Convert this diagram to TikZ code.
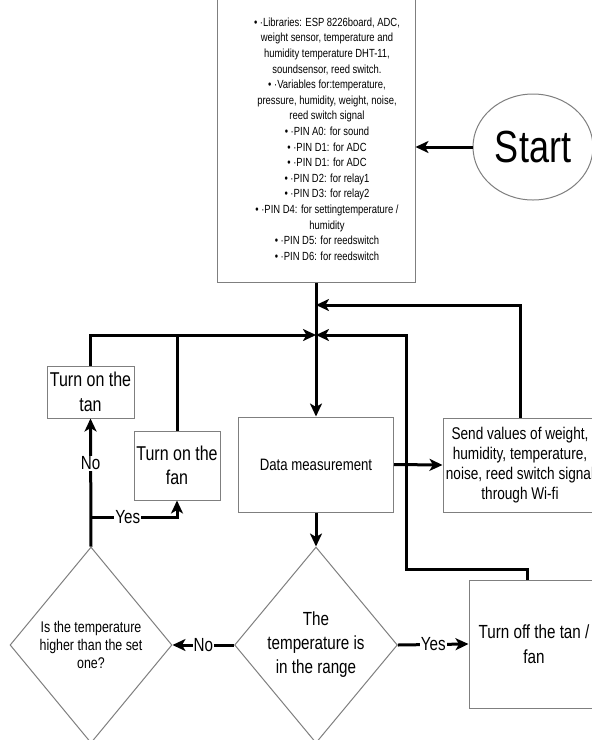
\documentclass[tikz,border=0pt]{standalone}
\usepackage{fontspec}
\setmainfont{Liberation Sans}[FakeStretch=0.8]
\usetikzlibrary{shapes.geometric,arrows.meta}
\definecolor{BoxGray}{HTML}{7F7F7F}
\definecolor{NiceBlack}{HTML}{000000}
\tikzset{
  box/.style={draw=BoxGray, line width=1pt, fill=white, align=center, inner sep=1pt},
  decision/.style={box, diamond, inner sep=0pt},
  flow/.style={line width=3pt, NiceBlack, -{Stealth[length=13pt,width=12pt,inset=3.5pt]}},
  wire/.style={line width=3pt, NiceBlack},
  lbl/.style={fill=white, inner sep=1pt, font=\fontsize{19}{22}\selectfont},
}
\begin{document}
\begin{tikzpicture}[x=1pt, y=-1pt]
      \useasboundingbox (0,0) rectangle (592,740);
      \clip (0,0) rectangle (592,740);
      % Setup block
      \node[box, minimum width=198, minimum height=290] (setup) at (316,137) {};
      \node[align=center, inner sep=0pt, font=\fontsize{11.8}{15.6}\selectfont]
      (setuptxt) at (327,139) {• ·Libraries: ESP 8226board, ADC,\\
        weight sensor, temperature and\\
        humidity temperature DHT-11,\\
        soundsensor, reed switch.\\
        • ·Variables for:temperature,\\
        pressure, humidity, weight, noise,\\
        reed switch signal\\
        • ·PIN A0: for sound\\
        • ·PIN D1: for ADC\\
        • ·PIN D1: for ADC\\
        • ·PIN D2: for relay1\\
        • ·PIN D3: for relay2\\
        • ·PIN D4: for settingtemperature /\\
        humidity\\
        • ·PIN D5: for reedswitch\\
        • ·PIN D6: for reedswitch};
      \node[box, ellipse, minimum width=120, minimum height=106,
      font=\fontsize{45}{48}\selectfont] (start) at (533,147) {Start};
      % Process blocks
      \node[box, minimum width=155, minimum height=95,
      font=\fontsize{16.5}{20}\selectfont] (data) at (316,464.5) {Data measurement};
      \node[box, minimum width=154, minimum height=94,
      font=\fontsize{17}{20}\selectfont] (send) at (520,465)
      {Send values of weight,\\ humidity, temperature,\\ noise, reed switch signal\\ through Wi-fi};
      \node[box, minimum width=87, minimum height=52,
      font=\fontsize{20}{25}\selectfont] (tan) at (90.5,392) {Turn on the\\ tan};
      \node[box, minimum width=86, minimum height=69,
      font=\fontsize{20}{24}\selectfont] (fan) at (177,465.5) {Turn on the\\ fan};
      \node[box, minimum width=130, minimum height=128,
      font=\fontsize{19}{25}\selectfont] (off) at (534,644) {Turn off the tan /\\ fan};
      % Decisions
      \node[decision, minimum width=161, minimum height=196,
      font=\fontsize{19}{24}\selectfont] (range) at (316,645)
      {The\\ temperature is\\ in the range};
      \node[decision, minimum width=162, minimum height=196,
      font=\fontsize{15.5}{18}\selectfont] (higher) at (91,645)
      {Is the temperature\\ higher than the set\\ one?};
      % Junctions
      \coordinate (jtop) at (316,305);
      \coordinate (jmid) at (316,335);
      \coordinate (yesfork) at (90.5,517);
      \coordinate (offin) at (527,580);
      \coordinate (rbend) at (406,569);
      % Connectors
      \draw[flow] (start.west) -- (start.west -| setup.east);
      \draw[flow] (setup.south) -- (data.north);
      \draw[flow] (send.north) |- (jtop);
      \draw[flow] (data.east) -- (send.west);
      \draw[flow] (data.south) -- (range.north);
      \draw[flow] (range.west) -- node[lbl] {No} (higher.east);
      \draw[flow] (range.east) -- node[lbl] {Yes} (off.west);
      \draw[flow] (offin) |- (rbend) |- (jmid);
      \draw[flow] (higher.north) -- node[lbl, pos=0.65] {No} (tan.south);
      \draw[flow] (yesfork) -- node[lbl, pos=0.43] {Yes} (yesfork -| fan.south) -- (fan.south);
      \draw[flow] (tan.north) |- (jmid);
      \draw[wire] (fan.north) -- (fan.north |- jmid);
    \end{tikzpicture}
\end{document}
